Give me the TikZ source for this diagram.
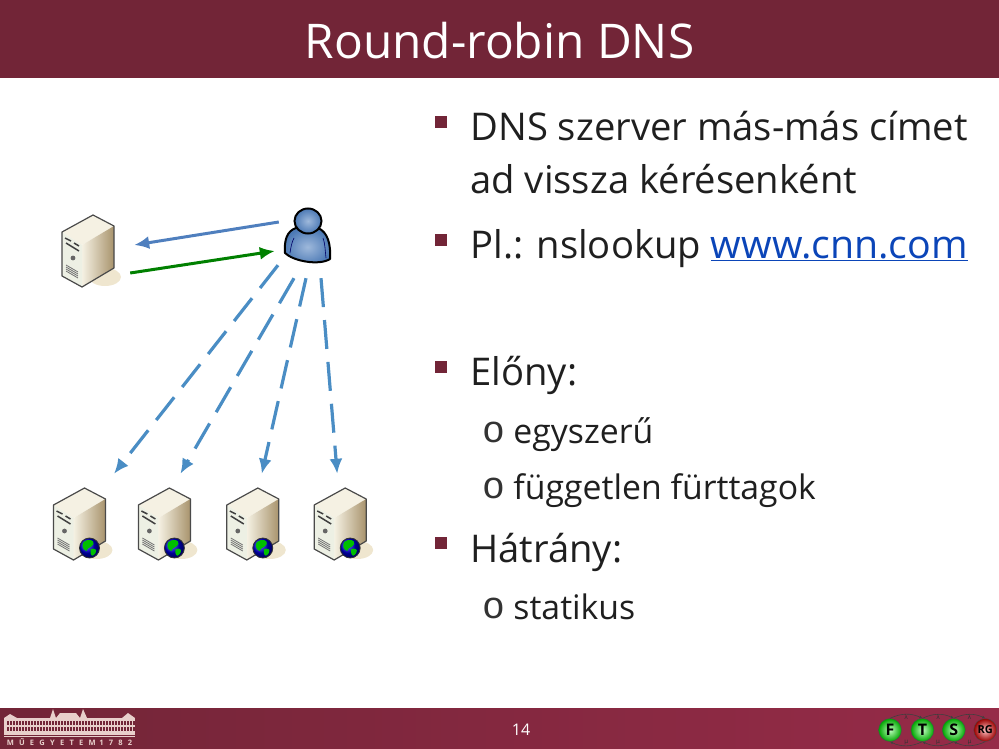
\documentclass[tikz,border=0pt]{standalone}
\usepackage{fontspec}
\usepackage{xcolor}
\setmainfont{Open Sans}
\usetikzlibrary{positioning, arrows.meta}

\definecolor{bmemaroon}{HTML}{722537}
\definecolor{bmeright}{HTML}{962B48}
\definecolor{arrowblue}{HTML}{4F7FBE}
\definecolor{arrowgreen}{HTML}{008000}
\definecolor{dashblue}{HTML}{4A8DC4}
\definecolor{linkblue}{HTML}{0B45B8}
\definecolor{logopale}{HTML}{E8CFCB}
\definecolor{serveredge}{HTML}{4A4A4A}
\definecolor{servertop}{HTML}{F5F1E3}
\definecolor{serverside}{HTML}{A8936C}
\definecolor{serverfront}{HTML}{EDF0E4}
\definecolor{servershade}{HTML}{EFE6CF}

\tikzset{
    iconbox/.style={inner sep=0pt, minimum width=#1},
    bulletbox/.style={fill=bmemaroon, inner sep=0pt, minimum size=12pt},
    ringmark/.style={inner sep=0pt, text width=20pt, align=center, font=\fontsize{38}{38}\selectfont\fontspec{Liberation Mono}\color{black!80}, text height=15pt, text depth=1pt},
    mainitem/.style={inner sep=0pt, font=\fontsize{38.2}{40}\selectfont, text height=29pt, text depth=9pt, text=black!88},
    subitem/.style={inner sep=0pt, font=\fontsize{33.8}{34}\selectfont, text height=25pt, text depth=8pt, text=black!88},
    fsmnode/.style={circle, draw=black!70, inner sep=0pt, minimum size=23pt, font=\bfseries\fontsize{16}{16}\selectfont},
    greenball/.style={inner color=green!25!white, outer color=green!65!black},
    redball/.style={inner color=red!25!white, outer color=red!60!black},
    fsmarc/.style={draw=black!75, line width=0.6pt, -{Latex[length=3pt,width=3pt]}},
    fsmlabel/.style={inner sep=0pt, font=\fontsize{6}{6}\selectfont\fontspec{DejaVu Sans}, text=black!80},
    dashedflow/.style={->, draw=dashblue, line width=3.2pt, dash pattern=on 29pt off 13pt},
    >={Latex[length=15pt,width=13pt]},
    pics/servericon/.style={code={
        \fill[servershade] (17,26) ellipse (16 and 9);
        \path[fill=servertop] (-26,-19) -- (5,-36) -- (26,-25) -- (-6,-6) -- cycle;
        \path[left color=servertop, right color=serverside] (-6,-6) -- (26,-25) -- (26,17) -- (-6,36) -- cycle;
        \path[fill=serverfront] (-26,-19) -- (-6,-6) -- (-6,36) -- (-26,25) -- cycle;
        \draw[serveredge, line width=1.2pt, line join=round] (-26,-19) -- (5,-36) -- (26,-25) -- (26,17) -- (-6,36) -- (-26,25) -- cycle;
        \foreach \k in {0,2,4,6} {
            \draw[black!55, line width=0.8pt] (-22,14+\k) -- (-10,21+\k);
        }
        \draw[black!75, line width=1.5pt] (-23,-13) -- (-17,-10) (-14,-8) -- (-9,-5) (-22,-8) -- (-9,0);
        \fill[black!60] (-15,7) circle (2.4);
    }},
    pics/globeicon/.style={code={
        \shade[ball color=blue!85!black] (0,0) circle (10);
        \fill[green!75!black] (-6,-6) .. controls (-1,-10) and (5,-8) .. (4,-4) .. controls (2,0) and (-2,-1) .. (-3,3) .. controls (-7,2) and (-8,-3) .. (-6,-6) -- cycle;
        \fill[green!75!black] (1,1) .. controls (5,0) and (8,1) .. (6,5) .. controls (4,8) and (2,9) .. (1,5) -- cycle;
        \draw[black!80, line width=0.8pt] (0,0) circle (10);
    }},
    pics/usericon/.style={code={
        \draw[black, line width=2pt, line join=round, inner color=arrowblue!55!white, outer color=arrowblue!95!black]
            (-11,-9) .. controls (-20,-6) and (-23,3) .. (-22,16)
            .. controls (-14,24) and (12,29) .. (23,22)
            .. controls (24,8) and (21,-5) .. (11,-9) -- cycle;
        \draw[black, line width=2pt, inner color=arrowblue!55!white, outer color=arrowblue!95!black] (1,-16) ellipse (13.5 and 12.5);
        \draw[blue!40!black, line width=0.6pt] (-17,16) .. controls (-16,9) and (-15,5) .. (-13,1) (19,21) .. controls (18,12) and (18,6) .. (16,1);
    }},
}

\begin{document}
\begin{tikzpicture}[x=1pt,y=-1pt]
    \useasboundingbox (0,0) rectangle (999,749);

    % Bands
    \fill[bmemaroon] (0,0) rectangle (999,78);
    \shade[left color=bmemaroon, right color=bmeright] (0,708) rectangle (999,749);
    \node (title) [inner sep=0pt, text=white, font=\fontsize{47.8}{48}\selectfont] at (499.5,41) {Round-robin DNS};
    \node (pagenum) [inner sep=0pt, text=white, font=\fontsize{16}{16}\selectfont] at (521,730) {14};

    % Icons
    \node (dns) [iconbox=52pt, minimum height=72pt] at (88,251) {};
    \pic at (dns) {servericon};
    \node (user) [iconbox=46pt, minimum height=56pt] at (307,237) {};
    \pic at (user) {usericon};
    \node (s1) [iconbox=53pt, minimum height=72pt] at (79.5,524) {};
    \node (s2) [iconbox=53pt, minimum height=72pt, right=31.5pt of s1] {};
    \node (s3) [iconbox=53pt, minimum height=72pt, right=35pt of s2] {};
    \node (s4) [iconbox=53pt, minimum height=72pt, right=34pt of s3] {};
    \foreach \n in {s1,s2,s3,s4} {
        \pic at (\n) {servericon};
        \pic at ([shift={(10,24)}]\n.center) {globeicon};
    }

    % Arrows
    \draw[->, draw=arrowblue, line width=3pt] ([shift={(-5,-15)}]user.west) -- ([shift={(20,-6)}]dns.east);
    \draw[->, draw=arrowgreen, line width=3pt] ([shift={(16,22)}]dns.east) -- ([shift={(-9,14)}]user.west);
    \draw[dashedflow] ([shift={(-29,0)}]user.south) -- ([shift={(34.5,-14)}]s1.north);
    \draw[dashedflow] ([shift={(-13,13)}]user.south) -- ([shift={(16,-14)}]s2.north);
    \draw[dashedflow] ([shift={(-1,13)}]user.south) -- ([shift={(9,-14)}]s3.north);
    \draw[dashedflow] ([shift={(14,13)}]user.south) -- ([shift={(-3,-14)}]s4.north);

    % Text
    \node (b1) [bulletbox] at (441,122) {};
    \node (t1) [mainitem, right=23pt of b1, yshift=-9pt] {DNS szerver más-más címet};
    \node (t1b) [mainitem, below=14pt of t1.south west, anchor=north west] {ad vissza kérésenként};
    \node (b2) [bulletbox] at (441,240) {};
    \node (t2) [mainitem, right=23pt of b2, yshift=-8pt] {Pl.: nslookup \textcolor{linkblue}{\fontsize{39.3}{40}\selectfont\underline{www.cnn.com}}};
    \node (b3) [bulletbox] at (441,367) {};
    \node (t3) [mainitem, right=23pt of b3, yshift=-8pt] {Előny:};
    \node (o1) [ringmark] at (492,435) {o};
    \node (t4) [subitem, right=11pt of o1] {egyszerű};
    \node (o2) [ringmark] at (492,491) {o};
    \node (t5) [subitem, right=11pt of o2] {független fürttagok};
    \node (b4) [bulletbox] at (441,543) {};
    \node (t6) [mainitem, right=23pt of b4, yshift=-9pt] {Hátrány:};
    \node (o3) [ringmark] at (492,611) {o};
    \node (t7) [subitem, right=11pt of o3] {statikus};

    % Building logo
    \fill[logopale] (4,718) rectangle (135,735);
    \fill[logopale] (4,718) -- (10,714) -- (17,718) -- cycle;
    \fill[logopale] (122,718) -- (128,713) -- (135,718) -- cycle;
    \fill[logopale] (50,718) -- (53,709) -- (56,718) -- (60,713) -- (76,713) -- (80,718) -- (83,709) -- (87,718) -- cycle;
    \foreach \wx in {7,10,...,133} {
        \fill[bmemaroon] (\wx,721) rectangle ++(1.6,3.5);
        \fill[bmemaroon] (\wx,727) rectangle ++(1.6,3.5);
    }
    \fill[logopale] (4,736) rectangle (135,737);
    \node (campus) [inner sep=0pt, text=logopale, font=\bfseries\fontsize{7.5}{8}\selectfont\addfontfeature{LetterSpace=70}] at (69.5,742.5) {MŰEGYETEM\enspace 1782};

    % Group logo
    \node (nf) [fsmnode, greenball] at (890,730) {F};
    \node (nt) [fsmnode, greenball, right=9pt of nf] {T};
    \node (ns) [fsmnode, greenball, right=8pt of nt] {S};
    \node (nr) [fsmnode, redball, right=8pt of ns, font=\bfseries\fontsize{11}{11}\selectfont] {RG};
    \draw[fsmarc] (nf.north) to[bend left=25] node[fsmlabel, below=0.5pt] {λ} (nt.north);
    \draw[fsmarc] (nt.north) to[bend left=25] node[fsmlabel, below=0.5pt] {λ} (ns.north);
    \draw[fsmarc] (ns.north) to[bend left=25] node[fsmlabel, below=0.5pt] {λ} (nr.north);
    \draw[fsmarc] (nt.south) to[bend left=25] node[fsmlabel, above=0.5pt] {µ} (nf.south);
    \draw[fsmarc] (ns.south) to[bend left=25] node[fsmlabel, above=0.5pt] {µ} (nt.south);
    \draw[fsmarc] (nr.south) to[bend left=25] node[fsmlabel, above=0.5pt] {µ} (ns.south);
\end{tikzpicture}
\end{document}
